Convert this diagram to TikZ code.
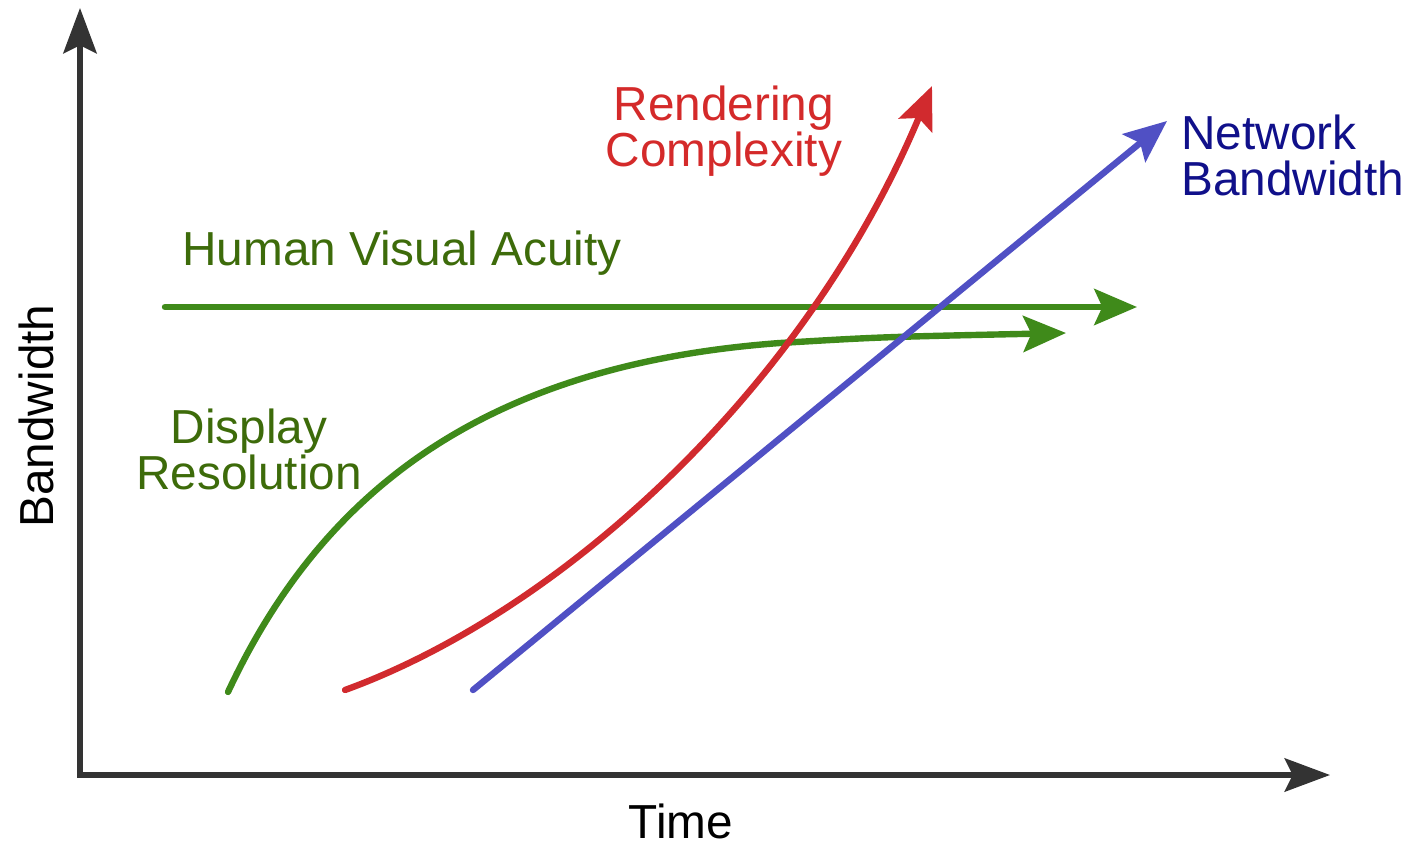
\documentclass[tikz,border=0pt]{standalone}
\usepackage{fontspec}
\setmainfont{Liberation Sans}
\usetikzlibrary{arrows.meta}
\definecolor{axisgray}{HTML}{333333}
\definecolor{greenline}{HTML}{3F8A1A}
\definecolor{greentext}{HTML}{3D6B0A}
\definecolor{redline}{HTML}{D12A2E}
\definecolor{redtext}{HTML}{D42A2A}
\definecolor{blueline}{HTML}{5050C4}
\definecolor{bluetext}{HTML}{10108A}
\tikzset{
  axis/.style={draw=axisgray, line width=3.8pt, -{Stealth[length=34pt,width=25pt,inset=6pt]}},
  trend/.style={line width=4.8pt, line cap=round, -{Stealth[length=32pt,width=27pt,inset=6pt]}},
  lbl/.style={font=\fontsize{35.8}{34.5}\selectfont, inner sep=0pt},
}
\begin{document}
\begin{tikzpicture}[x=0.75pt,y=-0.75pt]
\useasboundingbox (0,0) rectangle (1406,845);
% axes
\coordinate (O) at (80,775);
\coordinate (ytip) at (80,8);
\coordinate (xtip) at (1330,775);
\draw[axis] (O) -- (ytip);
\draw[axis] ([xshift=-2pt]O) -- (xtip);
\node[lbl, rotate=90] (ylab) at (36,416) {Bandwidth};
\node[lbl] (xlab) at (681,821) {Time};
% human visual acuity
\coordinate (h0) at (165,307);
\coordinate (h1) at (1137,307);
\draw[trend, greenline] (h0) -- (h1);
\node[lbl, text=greentext] (hlab) at (402,253) {Human Visual Acuity};
% display resolution
\coordinate (d0) at (228,692);
\coordinate (dm) at (780,343);
\coordinate (d1) at (1066,333);
\draw[trend, greenline] (d0) .. controls (320,495) and (480,365) .. (dm)
   .. controls (880,337) .. (d1);
\node[lbl, text=greentext, align=center] (dlab) at (249,449) {Display\\Resolution};
% rendering complexity
\coordinate (r0) at (345,690);
\coordinate (r1) at (932,86);
\draw[trend, redline] (r0) .. controls (560,612) and (805,390) .. (r1);
\node[lbl, text=redtext, align=center] (rlab) at (724,131) {Rendering\\Complexity};
% network bandwidth
\coordinate (n0) at (473,690);
\coordinate (n1) at (1167,121);
\draw[trend, blueline] (n0) -- (n1);
\node[lbl, text=bluetext, align=left, anchor=west] (nlab) at (1181,155) {Network\\Bandwidth};
\end{tikzpicture}
\end{document}
